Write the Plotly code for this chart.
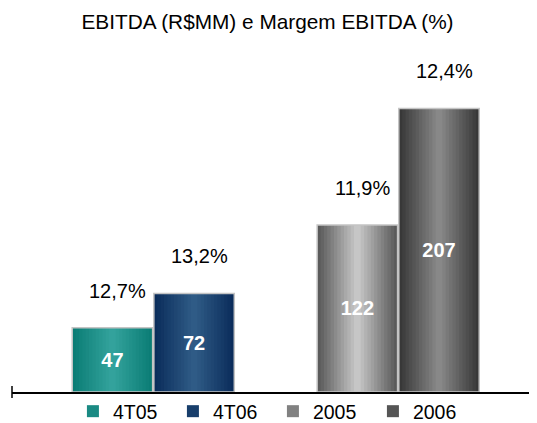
import plotly.graph_objects as go

# ---- data ----
categories = ["4T05", "4T06", "2005", "2006"]
ebitda = [47, 72, 122, 207]
margins = ["12,7%", "13,2%", "11,9%", "12,4%"]
title_text = "EBITDA (R$MM) e Margem EBITDA (%)"

# ---- layout / style ----
slots = [0, 1, 3, 4]          # bar slot positions (gap between quarter and year groups)
edge_colors = ["#0b7d75", "#0b2d5b", "#5a5a5a", "#383838"]
center_colors = ["#33a29c", "#2f5b86", "#c6c6c6", "#888888"]
FONT = "Arial, Liberation Sans, sans-serif"
N_LAYERS = 12
BAR_W = 0.985

# page body adds an 8px margin, so the figure is drawn 8px smaller
FIG_W, FIG_H = 529, 415
M_L, M_R, M_T, M_B = 4, 0, 32, 31
PLOT_H = FIG_H - M_T - M_B


def hex_rgb(h):
    h = h.lstrip("#")
    return tuple(int(h[i:i + 2], 16) for i in (0, 2, 4))


def mix(c1, c2, t):
    a, b = hex_rgb(c1), hex_rgb(c2)
    return "rgb(%d,%d,%d)" % tuple(round(a[j] + (b[j] - a[j]) * t) for j in range(3))


fig = go.Figure()
for i, cat in enumerate(categories):
    # gradient built from overlaid, progressively narrower bars
    for k in range(N_LAYERS):
        t = k / (N_LAYERS - 1)
        fig.add_trace(go.Bar(
            x=[slots[i]], y=[ebitda[i]],
            width=[BAR_W * (1 - k / N_LAYERS)],
            marker=dict(color=mix(edge_colors[i], center_colors[i], t), line=dict(width=0)),
            name=cat, legendgroup=cat,
            showlegend=(k == N_LAYERS // 3),
            hoverinfo="skip",
        ))
    # border + value label on top
    fig.add_trace(go.Bar(
        x=[slots[i]], y=[ebitda[i]], width=[BAR_W],
        marker=dict(color="rgba(0,0,0,0)", line=dict(color="#c4c4c4", width=1.5)),
        text=[str(ebitda[i])], textposition="inside", insidetextanchor="middle",
        textangle=0, constraintext="none",
        textfont=dict(color="white", size=20, family=FONT, weight="bold"),
        showlegend=False, legendgroup=cat, hoverinfo="skip", name=cat,
    ))

for i in range(len(categories)):
    fig.add_annotation(
        x=slots[i], y=ebitda[i], text=margins[i], showarrow=False,
        yshift=37, xshift=5, yanchor="middle",
        font=dict(size=20, color="black", family=FONT),
    )

# small tick at left end of the axis line
fig.add_shape(type="line", xref="paper", yref="paper",
              x0=0, x1=0, y0=-6 / PLOT_H, y1=6 / PLOT_H,
              line=dict(color="black", width=1.5))

fig.update_layout(
    width=FIG_W, height=FIG_H,
    margin=dict(l=M_L, r=M_R, t=M_T, b=M_B, autoexpand=False),
    paper_bgcolor="white", plot_bgcolor="white",
    barmode="overlay",
    font=dict(family=FONT, size=20, color="black"),
    title=dict(text=title_text, x=259.5 / FIG_W, xanchor="center", xref="container",
               y=1 - 14 / FIG_H, yanchor="middle", yref="container",
               font=dict(size=20.8, family=FONT, color="black")),
    xaxis=dict(range=[-1.23, 5.2], showline=True, linecolor="black", linewidth=2,
               showticklabels=False, ticks="", showgrid=False, zeroline=False),
    yaxis=dict(range=[0, 257], visible=False, showgrid=False, zeroline=False),
    legend=dict(orientation="h", x=0.497, xanchor="center", y=-19.5 / PLOT_H, yanchor="middle",
                font=dict(size=19.5, family=FONT), entrywidth=55, itemclick=False,
                bgcolor="rgba(0,0,0,0)"),
    showlegend=True,
)

fig.write_html("out.html")
